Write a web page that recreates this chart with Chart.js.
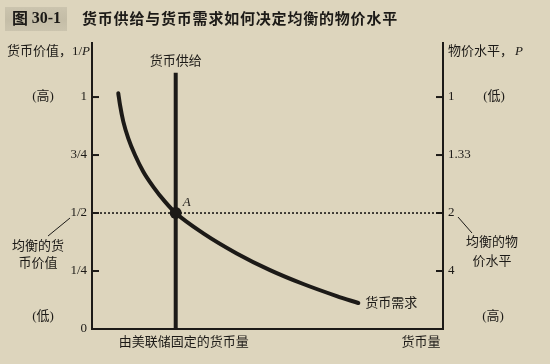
<!DOCTYPE html>
<html><head><meta charset="utf-8">
<script src="https://cdn.jsdelivr.net/npm/chart.js@4/dist/chart.umd.min.js"></script>
<style>html,body{margin:0;padding:0;background:#ddd5bd;overflow:hidden}#wrap{width:550px;height:364px;position:relative}</style>
</head><body><div id="wrap"><canvas id="c" width="550" height="364"></canvas></div>
<script>
// ---- data ----
const valueTicks = [0, 0.25, 0.5, 0.75, 1];
const valueTickLabels = ['0', '1/4', '1/2', '3/4', '1'];
const priceTicks = [1, 0.75, 0.5, 0.25];
const priceTickLabels = ['1', '1.33', '2', '4'];
const demandQty = [0.749, 0.798, 0.892, 1.034, 1.225, 1.462, 1.746, 2.079, 2.385, 3.171, 4.123, 5.071, 6.020, 6.972, 7.587];
const demandValue = [1.016, 0.966, 0.894, 0.822, 0.750, 0.678, 0.613, 0.549, 0.5, 0.4125, 0.326, 0.254, 0.194, 0.142, 0.112];
const supplyQty = [2.385, 2.385];
const supplyValue = [0, 1.105];
const eqQty = [2.385];
const eqValue = [0.5];
const qtyRange = [0, 10];
const valueRange = [0, 1.233];

const BG = '#ddd5bd', INK = '#1c1a17';
const SERIF = "'Liberation Serif','Noto Sans CJK SC',serif";
const CJK = "'Noto Sans CJK SC',sans-serif";

function txt(ctx, s, x, y, o = {}) {
  ctx.save();
  ctx.font = o.font || `13px ${SERIF}`;
  ctx.fillStyle = o.color || INK;
  ctx.textAlign = o.align || 'center';
  ctx.textBaseline = 'middle';
  if (o.ls) ctx.letterSpacing = o.ls;
  ctx.fillText(s, x, y);
  const w = ctx.measureText(s).width;
  ctx.restore();
  return w;
}
function seg(ctx, x1, y1, x2, y2, w) {
  ctx.save(); ctx.strokeStyle = INK; ctx.lineWidth = w; ctx.beginPath();
  ctx.moveTo(x1, y1); ctx.lineTo(x2, y2); ctx.stroke(); ctx.restore();
}

const bgPlugin = {
  id: 'bg',
  beforeDraw(chart) {
    const ctx = chart.ctx; ctx.save(); ctx.fillStyle = BG;
    ctx.fillRect(0, 0, chart.width, chart.height); ctx.restore();
  }
};

const annot = {
  id: 'annot',
  afterDraw(chart) {
    const ctx = chart.ctx, xs = chart.scales.x, yl = chart.scales.y, yr = chart.scales.yR;
    // inward ticks
    valueTicks.forEach(v => { const p = yl.getPixelForValue(v); if (v > 0) seg(ctx, xs.left, p, xs.left + 7, p, 2); });
    priceTicks.forEach(v => { const p = yr.getPixelForValue(v); seg(ctx, xs.right - 7, p, xs.right, p, 2); });

    // title
    ctx.save();
    const g = ctx.createLinearGradient(0, 7, 0, 31);
    g.addColorStop(0, '#cbc4ae'); g.addColorStop(0.5, '#c4bda7'); g.addColorStop(1, '#cbc4ae');
    ctx.fillStyle = g; ctx.fillRect(5, 7, 62, 24); ctx.restore();
    const w1 = txt(ctx, '图 ', 12, 18, { align: 'left', font: `bold 16px ${CJK}` });
    txt(ctx, '30-1', 12 + w1, 19, { align: 'left', font: `bold 16px 'Liberation Serif',serif` });
    txt(ctx, '货币供给与货币需求如何决定均衡的物价水平', 82, 18, { align: 'left', font: `bold 15px ${CJK}`, ls: '0.8px' });

    // axis titles
    const wl = txt(ctx, '货币价值，1/', 7, 52, { align: 'left' });
    txt(ctx, 'P', 7 + wl, 52, { align: 'left', font: `italic 13px ${SERIF}` });
    const wr = txt(ctx, '物价水平，', 448, 52, { align: 'left' });
    txt(ctx, 'P', 448 + wr + 2, 52, { align: 'left', font: `italic 13px ${SERIF}` });

    const p1 = yl.getPixelForValue(1), p0 = yl.getPixelForValue(0), ph = yl.getPixelForValue(0.5);
    txt(ctx, '(高)', 43, p1);
    txt(ctx, '(低)', 43, p0 - 12);
    txt(ctx, '(低)', 494, p1);
    txt(ctx, '(高)', 493, p0 - 12);

    txt(ctx, '均衡的货', 38, ph + 34);
    txt(ctx, '币价值', 38, ph + 51);
    seg(ctx, 48, ph + 23, 70, ph + 5, 1);
    txt(ctx, '均衡的物', 492, ph + 30);
    txt(ctx, '价水平', 492, ph + 49);
    seg(ctx, 458, ph + 4, 472, ph + 20, 1);

    const sx = xs.getPixelForValue(eqQty[0]);
    txt(ctx, '货币供给', sx, 62);
    txt(ctx, 'A', sx + 11, ph - 10, { font: `italic 13px ${SERIF}` });
    const ex = xs.getPixelForValue(demandQty[demandQty.length - 1]);
    const ey = yl.getPixelForValue(demandValue[demandValue.length - 1]);
    txt(ctx, '货币需求', ex + 7, ey + 1, { align: 'left' });
    txt(ctx, '由美联储固定的货币量', sx + 8, 343);
    txt(ctx, '货币量', 421, 343);
  }
};

new Chart(document.getElementById('c'), {
  type: 'line',
  data: {
    datasets: [
      { data: eqQty.map((q, i) => ({ x: q, y: eqValue[i] })), showLine: false, pointRadius: 6, pointBackgroundColor: INK, pointBorderWidth: 0, order: 0 },
      { data: supplyQty.map((q, i) => ({ x: q, y: supplyValue[i] })), borderColor: INK, borderWidth: 4, pointRadius: 0, borderCapStyle: 'butt', order: 1 },
      { data: demandQty.map((q, i) => ({ x: q, y: demandValue[i] })), borderColor: INK, borderWidth: 4, pointRadius: 0, cubicInterpolationMode: 'monotone', borderCapStyle: 'round', order: 2 },
      { data: qtyRange.map(q => ({ x: q, y: eqValue[0] })), borderColor: INK, borderWidth: 1.6, borderDash: [2, 2], pointRadius: 0, order: 3 }
    ]
  },
  options: {
    responsive: false, animation: false, events: [],
    layout: { padding: { top: 43, left: 0, right: 0, bottom: 0 } },
    plugins: { legend: { display: false }, tooltip: { enabled: false }, title: { display: false } },
    scales: {
      x: {
        type: 'linear', min: qtyRange[0], max: qtyRange[1],
        ticks: { display: false }, grid: { display: false, drawTicks: false },
        border: { display: true, color: INK, width: 2 },
        afterFit(s) { s.height = 35; }
      },
      y: {
        position: 'left', min: valueRange[0], max: valueRange[1],
        afterBuildTicks(s) { s.ticks = valueTicks.map(v => ({ value: v })); },
        ticks: { padding: 5, color: INK, font: { family: "'Liberation Serif',serif", size: 13 },
          callback: (v) => valueTickLabels[valueTicks.indexOf(v)] },
        grid: { display: false, drawTicks: false },
        border: { display: true, color: INK, width: 2 },
        afterFit(s) { s.width = 92; }
      },
      yR: {
        position: 'right', min: valueRange[0], max: valueRange[1],
        afterBuildTicks(s) { s.ticks = priceTicks.map(v => ({ value: v })); },
        ticks: { padding: 5, color: INK, font: { family: "'Liberation Serif',serif", size: 13 },
          callback: (v) => priceTickLabels[priceTicks.indexOf(v)] },
        grid: { display: false, drawTicks: false },
        border: { display: true, color: INK, width: 2 },
        afterFit(s) { s.width = 107; }
      }
    }
  },
  plugins: [bgPlugin, annot]
});
</script>
</body></html>
